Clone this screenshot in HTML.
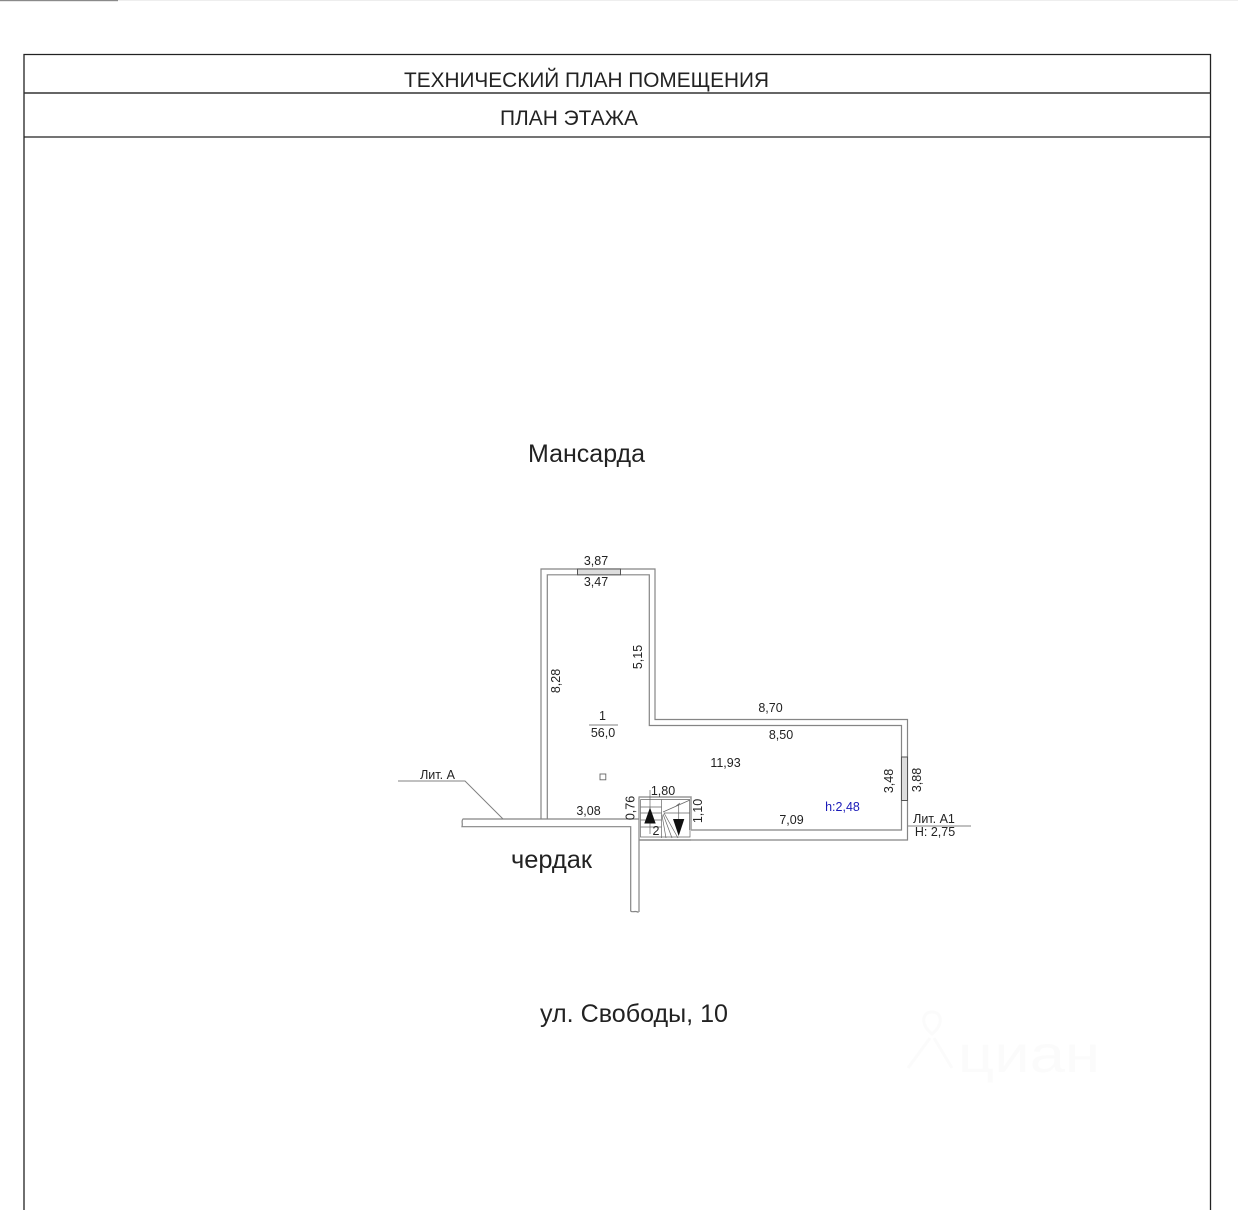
<!DOCTYPE html>
<html><head><meta charset="utf-8"><style>
html,body{margin:0;padding:0;background:#fff;width:1238px;height:1210px;overflow:hidden}
svg{display:block}
text{font-family:"Liberation Sans",sans-serif;fill:#222}
.d{font-size:12.5px;text-anchor:middle}
.w{fill:none;stroke:#858585;stroke-width:1.2}
.s{fill:none;stroke:#666;stroke-width:.7}
</style></head><body>
<svg width="1238" height="1210" viewBox="0 0 1238 1210" xmlns="http://www.w3.org/2000/svg">
<rect width="1238" height="1210" fill="#fff"/>
<rect x="0" y="0" width="1238" height="1" fill="#eee"/>
<rect x="0" y="0" width="118" height="1.2" fill="#8a8a8a"/>

<!-- frame -->
<path d="M24 1210V54.500H1210.500V1210" fill="none" stroke="#222" stroke-width="1.300"/>
<path d="M24 93H1210.500" stroke="#333" stroke-width="1.600"/>
<path d="M24 137H1210.500" stroke="#222" stroke-width="1.300"/>
<text x="404" y="87" font-size="21.5" textLength="365" lengthAdjust="spacingAndGlyphs">ТЕХНИЧЕСКИЙ ПЛАН ПОМЕЩЕНИЯ</text>
<text x="500" y="125" font-size="21.5" textLength="138" lengthAdjust="spacingAndGlyphs">ПЛАН ЭТАЖА</text>

<text x="528" y="462" font-size="25" textLength="117" lengthAdjust="spacingAndGlyphs">Мансарда</text>
<text x="511" y="868" font-size="25" textLength="81" lengthAdjust="spacingAndGlyphs">чердак</text>
<text x="540" y="1022" font-size="25" textLength="188" lengthAdjust="spacingAndGlyphs">ул. Свободы, 10</text>

<!-- outer walls -->
<path class="w" d="M541 819V569H655V719.500H907.500V840H639.500"/>
<path class="w" d="M547.300 819V574.800H649.300V725.500H901.500V830H691"/>
<!-- attic walls -->
<path class="w" d="M639 819H463C461 821 463 823 462 826.700H630.700V911C632 913 636 910 638.500 912.500M639 797V912"/>
<!-- windows -->
<rect x="577.500" y="569" width="43" height="5.800" fill="#ddd" stroke="#555" stroke-width="1"/>
<rect x="901.500" y="757" width="6" height="43.500" fill="#ddd" stroke="#555" stroke-width="1"/>

<!-- leaders -->
<path d="M398 781H465L503 819" fill="none" stroke="#808080" stroke-width="1"/>
<path d="M908 826H971" stroke="#808080" stroke-width="1"/>

<!-- room number -->
<path d="M589 725H618" stroke="#808080" stroke-width="1"/>
<rect x="600" y="774" width="5.800" height="5.800" fill="none" stroke="#666" stroke-width=".9"/>

<!-- stairs -->
<path d="M638.500 797H691V830" fill="none" stroke="#999" stroke-width="1.500"/>
<path class="s" d="M640.500 799.500H689.500V830M640.500 799.500V837H690V830"/>
<path class="s" d="M640.500 807H661.500M640.500 813H661.500M640.500 820H661.500M640.500 827H661.500M661.500 799.500V838"/>
<path class="s" d="M663 812L690 800M664 813H690M664 813L678 838M663 814L672 838M662 815L666 838M650 790V808M650 823V834M678.700 804V819M676 806L680 803"/>
<path d="M650 807.500L644.300 823.500H655.700Z" fill="#111"/>
<path d="M673 819H684.300L678.700 836Z" fill="#111"/>
<path d="M640 840H691" stroke="#858585" stroke-width="1.200"/>

<!-- dimensions -->
<text class="d" x="596" y="565">3,87</text>
<text class="d" x="596" y="586">3,47</text>
<text class="d" transform="translate(560 681) rotate(-90)">8,28</text>
<text class="d" transform="translate(642 657) rotate(-90)">5,15</text>
<text class="d" x="770.500" y="712">8,70</text>
<text class="d" x="781" y="739">8,50</text>
<text class="d" x="725.500" y="767">11,93</text>
<text class="d" x="602.500" y="720">1</text>
<text class="d" x="603" y="737">56,0</text>
<text class="d" x="588.500" y="815">3,08</text>
<text class="d" transform="translate(634.500 808) rotate(-90)">0,76</text>
<text class="d" x="663" y="795">1,80</text>
<text class="d" transform="translate(702 811) rotate(-90)">1,10</text>
<text class="d" x="656" y="835">2</text>
<text class="d" x="791.500" y="824">7,09</text>
<text class="d" x="842.500" y="811" style="fill:#1a1ab8">h:2,48</text>
<text class="d" transform="translate(893 781) rotate(-90)">3,48</text>
<text class="d" transform="translate(921 780) rotate(-90)">3,88</text>
<text class="d" x="437.500" y="779">Лит. А</text>
<text class="d" x="934" y="823">Лит. А1</text>
<text class="d" x="935" y="836">Н: 2,75</text>

<!-- faint watermark -->
<path d="M932 1012C922 1012 920 1024 932 1034C944 1024 942 1012 932 1012ZM930 1038L908 1068M934 1038L952 1068" fill="none" stroke="#fbfbfb" stroke-width="3"/>
<text x="958" y="1072" font-size="52" textLength="142" lengthAdjust="spacingAndGlyphs" style="fill:#fbfbfb">циан</text>
</svg>
</body></html>
